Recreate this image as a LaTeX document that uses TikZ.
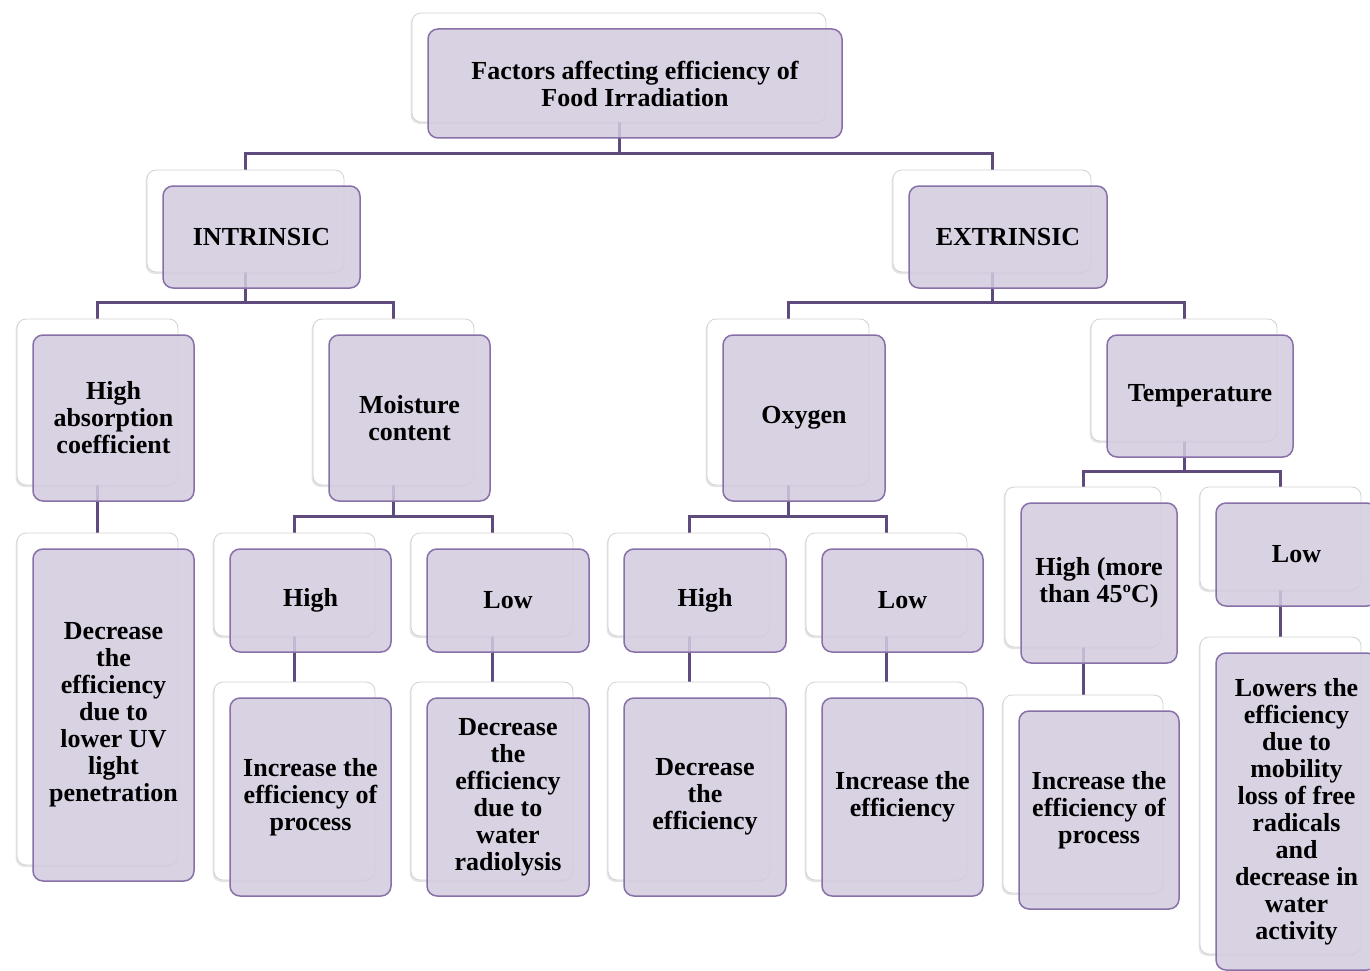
\documentclass[tikz,border=0pt]{standalone}
\usepackage{fontspec}
\setmainfont{Liberation Serif}
\usetikzlibrary{calc,shadows}
\pgfdeclarelayer{bg}
\pgfsetlayers{bg,main}
\definecolor{frontfill}{RGB}{211,203,223}
\definecolor{frontdraw}{RGB}{136,112,168}
\definecolor{conncol}{RGB}{94,74,124}
\pgfdeclarehorizontalshading{backshade}{100bp}{color(0bp)=(gray!60); color(4bp)=(gray!30); color(10bp)=(white); color(100bp)=(white)}
\tikzset{
  backbox/.style={draw=gray!35, shade, shading=backshade, rounded corners=9pt, line width=0.8pt,
    drop shadow={shadow xshift=-1.5pt, shadow yshift=-2pt, opacity=0.2, fill=gray}},
  frontbox/.style={draw=frontdraw, fill=frontfill, fill opacity=0.86, text opacity=1,
    rounded corners=10pt, line width=1.5pt, inner sep=0pt, align=center,
    font=\fontsize{26}{27}\selectfont\bfseries},
  connline/.style={draw=conncol, line width=3pt},
}
\newcommand\pairnode[6]{%
  \node[backbox, minimum width={(#4-#2)*1pt}, minimum height={(#5-#3)*1pt}]
    (#1b) at ({(#2+#4)/2},{(#3+#5)/2}) {};
  \node[frontbox, minimum width={(#4-#2)*1pt}, minimum height={(#5-#3)*1pt}]
    (#1) at ({(#2+#4)/2+16},{(#3+#5)/2+16}) {#6};
}
\begin{document}
\begin{tikzpicture}[x=1pt,y=-1pt]
\useasboundingbox (0,0) rectangle (1370,971);
\begin{pgfonlayer}{bg}
  \fill[white] (0,0) rectangle (1370,971);
\end{pgfonlayer}

\pairnode{root}{412}{13}{826}{122}{Factors affecting efficiency of\\Food Irradiation}
\pairnode{int}{147}{170}{344}{272}{INTRINSIC}
\pairnode{ext}{893}{170}{1091}{272}{EXTRINSIC}
\pairnode{hab}{17}{319}{178}{485}{High\\absorption\\coefficient}
\pairnode{moist}{313}{319}{474}{485}{Moisture\\content}
\pairnode{oxy}{707}{319}{869}{485}{Oxygen}
\pairnode{temp}{1091}{319}{1277}{441}{Temperature}
\pairnode{dec}{17}{533}{178}{865}{Decrease\\the\\efficiency\\due to\\lower UV\\light\\penetration}
\pairnode{mhigh}{214}{533}{375}{636}{High}
\pairnode{mlow}{411}{533}{573}{636}{Low}
\pairnode{ohigh}{608}{533}{770}{636}{High}
\pairnode{olow}{806}{533}{967}{636}{Low}
\pairnode{mhires}{214}{682}{375}{880}{Increase the\\efficiency of\\process}
\pairnode{mlores}{411}{682}{573}{880}{Decrease\\the\\efficiency\\due to\\water\\radiolysis}
\pairnode{ohires}{608}{682}{770}{880}{Decrease\\the\\efficiency}
\pairnode{olores}{806}{682}{967}{880}{Increase the\\efficiency}
\pairnode{thigh}{1005}{487}{1161}{647}{High (more\\than 45ºC)}
\pairnode{tlow}{1200}{487}{1361}{590}{Low}
\pairnode{thires}{1003}{695}{1163}{893}{Increase the\\efficiency of\\process}
\pairnode{tlores}{1200}{637}{1361}{954}{Lowers the\\efficiency\\due to\\mobility\\loss of free\\radicals\\and\\decrease in\\water\\activity}

\coordinate (busroot) at (0,153);
\coordinate (busmid) at (0,302);
\coordinate (buslow) at (0,516);
\coordinate (bustemp) at (0,471);

\begin{pgfonlayer}{bg}
  \draw[connline] (rootb.center) -- (rootb.center |- busroot) -| (intb.center);
  \draw[connline] (rootb.center |- busroot) -| (extb.center);
  \draw[connline] (intb.center) -- (intb.center |- busmid) -| (habb.center);
  \draw[connline] (intb.center |- busmid) -| (moistb.center);
  \draw[connline] (extb.center) -- (extb.center |- busmid) -| (oxyb.center);
  \draw[connline] (extb.center |- busmid) -| (tempb.center);
  \draw[connline] (habb.center) -- (decb.center);
  \draw[connline] (moistb.center) -- (moistb.center |- buslow) -| (mhighb.center);
  \draw[connline] (moistb.center |- buslow) -| (mlowb.center);
  \draw[connline] (oxyb.center) -- (oxyb.center |- buslow) -| (ohighb.center);
  \draw[connline] (oxyb.center |- buslow) -| (olowb.center);
  \draw[connline] (tempb.center) -- (tempb.center |- bustemp) -| (thighb.center);
  \draw[connline] (tempb.center |- bustemp) -| (tlowb.center);
  \draw[connline] (mhighb.center) -- (mhiresb.center);
  \draw[connline] (mlowb.center) -- (mloresb.center);
  \draw[connline] (ohighb.center) -- (ohiresb.center);
  \draw[connline] (olowb.center) -- (oloresb.center);
  \draw[connline] (thighb.center) -- (thiresb.center);
  \draw[connline] (tlowb.center) -- (tloresb.center);
\end{pgfonlayer}
\end{tikzpicture}
\end{document}
